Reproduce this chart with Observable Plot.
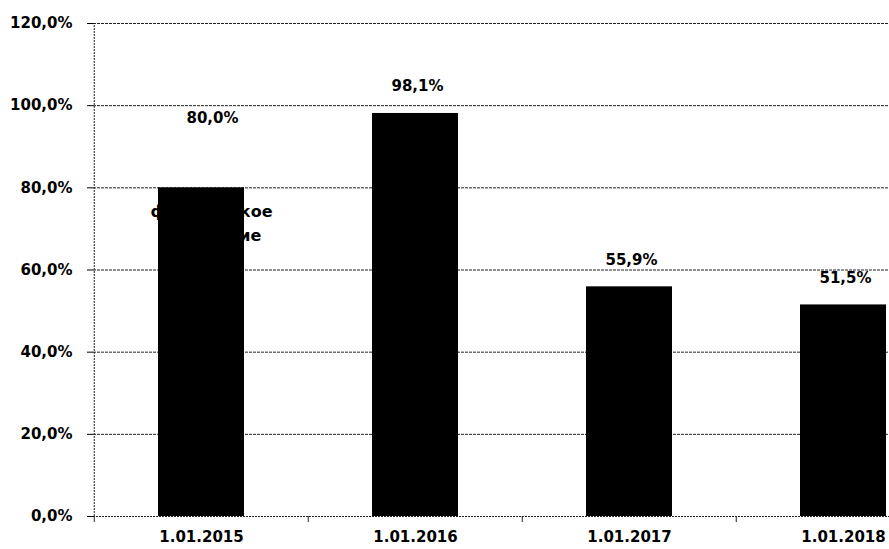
<!DOCTYPE html>
<html>
<head>
<meta charset="utf-8">
<script src="https://cdn.jsdelivr.net/npm/d3@7"></script>
<script src="https://cdn.jsdelivr.net/npm/@observablehq/plot@0.6"></script>
<style>
  html, body { margin: 0; padding: 0; background: #fff; overflow: hidden; }
  #chart svg { display: block; }
</style>
</head>
<body>
<div id="chart"></div>
<script>
const categories = ["1.01.2015", "1.01.2016", "1.01.2017", "1.01.2018"];
const values = [80.0, 98.1, 55.9, 51.5];
const valueLabels = ["80,0%", "98,1%", "55,9%", "51,5%"];
const yTicks = [0, 20, 40, 60, 80, 100, 120];
const yTickLabels = ["0,0%", "20,0%", "40,0%", "60,0%", "80,0%", "100,0%", "120,0%"];
const noteLines = ["фактическое", "изменение"];
const noteAnchor = {date: "1.01.2015", value: 71.8};

const data = categories.map((c, i) => ({date: c, value: values[i], label: valueLabels[i]}));

const chart = Plot.plot({
  width: 889,
  height: 549,
  marginLeft: 93,
  marginRight: 0,
  marginTop: 23,
  marginBottom: 33,
  style: {fontFamily: "DejaVu Sans", fontSize: "15px", fontWeight: "bold", color: "#000", background: "#fff"},
  x: {domain: categories, range: [93, 951], paddingInner: 0.6, paddingOuter: 0.3, label: null},
  y: {domain: [0, 120], label: null},
  marks: [
    Plot.ruleY(yTicks.filter(d => d > 0), {stroke: "#222", strokeWidth: 1, strokeDasharray: "3,1"}),
    Plot.text([noteAnchor], {x: "date", y: "value", text: () => noteLines.join("\n"), dx: 10, lineHeight: 1.45, fill: "#000", fontSize: 16, fontWeight: "bold"}),
    Plot.barY(data, {x: "date", y: "value", fill: "#000"}),
    Plot.text(data.slice(0, 1), {x: "date", y: "value", text: "label", dy: -70, dx: 11, fill: "#000", fontSize: 15, fontWeight: "bold"}),
    Plot.text(data.slice(1), {x: "date", y: "value", text: "label", dy: -27, dx: 2, fill: "#000", fontSize: 15, fontWeight: "bold"}),
    // axis lines
    Plot.ruleY([0], {stroke: "#222", strokeWidth: 1, strokeDasharray: "2,1"}),
    Plot.ruleX(categories.slice(0, 1), {x: d => d, dx: -107.25, y1: 0, y2: 120, stroke: "#222", strokeDasharray: "2,1"}),
    // category boundary ticks
    Plot.ruleX(categories, {x: d => d, dx: -107.25, y1: 0, y2: 0, insetBottom: -6, stroke: "#222"}),
    Plot.axisY({ticks: yTicks, tickFormat: d => yTickLabels[yTicks.indexOf(d)], tickSize: 6, tickPadding: 15, fontSize: 15, fontWeight: "bold", label: null}),
    Plot.axisX({tickSize: 0, tickPadding: 15, fontSize: 15, fontWeight: "bold", label: null})
  ]
});
document.getElementById("chart").appendChild(chart);
</script>
</body>
</html>
